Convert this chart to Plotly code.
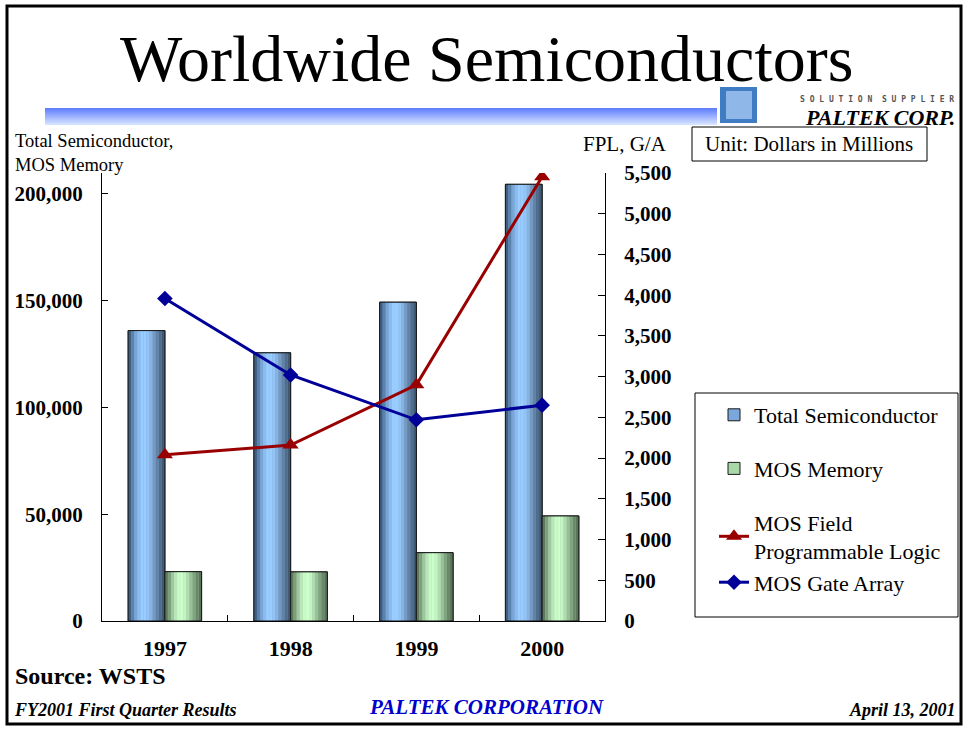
import plotly.graph_objects as go

# ---------------- data ----------------
years = ["1997", "1998", "1999", "2000"]
total_semi = [136000, 125600, 149300, 204500]
mos_memory = [23100, 23000, 32000, 49200]
mos_fpl = [2040, 2160, 2900, 5455]
mos_gate_array = [3960, 3020, 2470, 2650]
left_ticks = [0, 50000, 100000, 150000, 200000]
right_ticks = [0, 500, 1000, 1500, 2000, 2500, 3000, 3500, 4000, 4500, 5000, 5500]

# ---------------- geometry helpers ----------------
W, H = 968, 731
L, R, T, B = 102, 605, 173, 621
def px(x):
    return (x - L) / (R - L)
def py(y):
    return (B - y) / (B - T)

SERIF = "Liberation Serif"
fig = go.Figure()

BW = 0.292
blue_strips = ["#3f5f82", "#5a82ad", "#78a5d6", "#8cbcee", "#99ccff", "#99ccff",
               "#93c4f5", "#86b3e0", "#7599c2", "#6283a6", "#506d8c", "#405a75"]
green_strips = ["#5d7a5d", "#7c9f7c", "#9fc79f", "#b8e6b8", "#c8fac8", "#ccffcc",
                "#c4f4c4", "#b0dcb0", "#98c098", "#80a380", "#6b886b", "#5a745a"]

def cyl(name, vals, off, strips, mid, rank, group):
    fig.add_trace(go.Bar(x=years, y=vals, name=name, offset=off, width=BW,
                         marker=dict(color=mid, line=dict(color="#1a1a1a", width=1)),
                         legendrank=rank, legendgroup=group, yaxis="y"))
    n = len(strips)
    for i, c in enumerate(strips):
        fig.add_trace(go.Bar(x=years, y=vals, offset=off + i * BW / n, width=BW / n,
                             marker=dict(color=c, line=dict(width=0)),
                             showlegend=False, hoverinfo="skip", yaxis="y",
                             legendgroup=group))
    fig.add_trace(go.Bar(x=years, y=vals, offset=off, width=BW,
                         marker=dict(color="rgba(0,0,0,0)", line=dict(color="#1a1a1a", width=1)),
                         showlegend=False, hoverinfo="skip", yaxis="y", legendgroup=group))

cyl("Total Semiconductor", total_semi, -BW, blue_strips, "#7aa8dc", 1, "g1")
cyl("MOS Memory", mos_memory, 0.0, green_strips, "#a8d8a8", 2, "g2")

fig.add_trace(go.Scatter(x=years, y=mos_fpl, name="MOS Field<br>Programmable Logic",
                         mode="lines+markers", yaxis="y2", legendrank=3, legendgroup="g3",
                         line=dict(color="#990000", width=3),
                         marker=dict(symbol="triangle-up", size=14, color="#990000")))
fig.add_trace(go.Scatter(x=years, y=mos_gate_array, name="MOS Gate Array",
                         mode="lines+markers", yaxis="y2", legendrank=4, legendgroup="g3",
                         line=dict(color="#000099", width=3),
                         marker=dict(symbol="diamond", size=12, color="#000099")))

tickfont = dict(family=SERIF, size=21, color="black", weight="bold")

fig.update_layout(
    width=W, height=H,
    margin=dict(l=L, r=W - R, t=T, b=H - B, pad=0),
    paper_bgcolor="white", plot_bgcolor="white",
    barmode="overlay",
    showlegend=True,
    legend=dict(x=px(714), y=py(394), xanchor="left", yanchor="top",
                bgcolor="rgba(0,0,0,0)", borderwidth=0,
                font=dict(family=SERIF, size=22, color="black"),
                tracegroupgap=22, traceorder="grouped"),
    xaxis=dict(type="category", range=[-0.5, 3.5], showline=True, linecolor="black",
               linewidth=1, ticks="inside", ticklen=6, tickcolor="black",
               tickson="boundaries", showgrid=False, zeroline=False,
               tickfont=dict(family=SERIF, size=22, color="black", weight="bold"),
               ticklabelstandoff=8),
    yaxis=dict(range=[0, 209800], tickvals=left_ticks, tickformat=",",
               showline=True, linecolor="black", linewidth=1, ticks="inside",
               ticklen=6, tickcolor="black", showgrid=False, zeroline=False,
               tickfont=tickfont, ticklabelstandoff=14),
    yaxis2=dict(range=[0, 5500], tickvals=right_ticks, tickformat=",",
                overlaying="y", side="right", showline=True, linecolor="black",
                linewidth=1, ticks="inside", ticklen=7, tickcolor="black",
                showgrid=False, zeroline=False, tickfont=tickfont, ticklabelstandoff=14),
    font=dict(family=SERIF, color="black"),
)

shapes = []
# outer frame
shapes.append(dict(type="rect", xref="paper", yref="paper", x0=px(7), x1=px(961),
                   y0=py(724), y1=py(6), line=dict(color="black", width=3),
                   fillcolor="rgba(0,0,0,0)", layer="below"))
# gradient band under title (vertical gradient)
top_c = (95, 127, 255)
bot_c = (216, 228, 255)
n_band = 17
for i in range(n_band):
    t = i / (n_band - 1)
    c = tuple(int(round(top_c[k] + (bot_c[k] - top_c[k]) * t)) for k in range(3))
    y0 = 108 + i
    shapes.append(dict(type="rect", xref="paper", yref="paper", x0=px(45), x1=px(717),
                       y0=py(y0 + 1), y1=py(y0), line=dict(width=0),
                       fillcolor="rgb(%d,%d,%d)" % c, layer="below"))
# logo icon
shapes.append(dict(type="rect", xref="paper", yref="paper", x0=px(720), x1=px(757),
                   y0=py(123), y1=py(87), line=dict(width=0), fillcolor="#3f7cc4", layer="below"))
shapes.append(dict(type="rect", xref="paper", yref="paper", x0=px(726), x1=px(752),
                   y0=py(119), y1=py(91), line=dict(width=0), fillcolor="#8fb8e8", layer="below"))
# unit box
shapes.append(dict(type="rect", xref="paper", yref="paper", x0=px(692), x1=px(927),
                   y0=py(161), y1=py(127), line=dict(color="black", width=1),
                   fillcolor="white"))
# legend box
shapes.append(dict(type="rect", xref="paper", yref="paper", x0=px(695), x1=px(958),
                   y0=py(617), y1=py(393), line=dict(color="black", width=1),
                   fillcolor="rgba(0,0,0,0)"))
fig.update_layout(shapes=shapes)

def ann(text, x, y, size, xanchor="left", yanchor="middle", color="black",
        weight="normal", style="normal", family=SERIF, align="left"):
    fig.add_annotation(text=text, x=px(x), y=py(y), xref="paper", yref="paper",
                       xanchor=xanchor, yanchor=yanchor, showarrow=False, align=align,
                       font=dict(family=family, size=size, color=color,
                                 weight=weight, style=style))

ann("Worldwide Semiconductors", 486, 59, 66, xanchor="center")
ann("S O L U T I O N  S U P P L I E R", 956, 99, 8, xanchor="right", color="#555555",
    family="DejaVu Sans Mono", weight="bold")
ann("PALTEK CORP.", 957, 117, 22, xanchor="right", weight="bold", style="italic")
ann("Total Semiconductor,<br>MOS Memory", 13, 153, 18.5)
ann("FPL, G/A", 581, 144, 21)
ann("Unit: Dollars in Millions", 809, 144, 21, xanchor="center", align="center")
ann("Source: WSTS", 13, 676, 24, weight="bold")
ann("FY2001 First Quarter Results", 12, 710, 18, weight="bold", style="italic")
ann("PALTEK CORPORATION", 486, 707, 21, xanchor="center", weight="bold",
    style="italic", color="#0000cc", align="center")
ann("April 13, 2001", 958, 710, 18, xanchor="right", weight="bold", style="italic")

fig.write_html("out.html", config={"displayModeBar": False},
               post_script="document.body.style.margin='0';")
